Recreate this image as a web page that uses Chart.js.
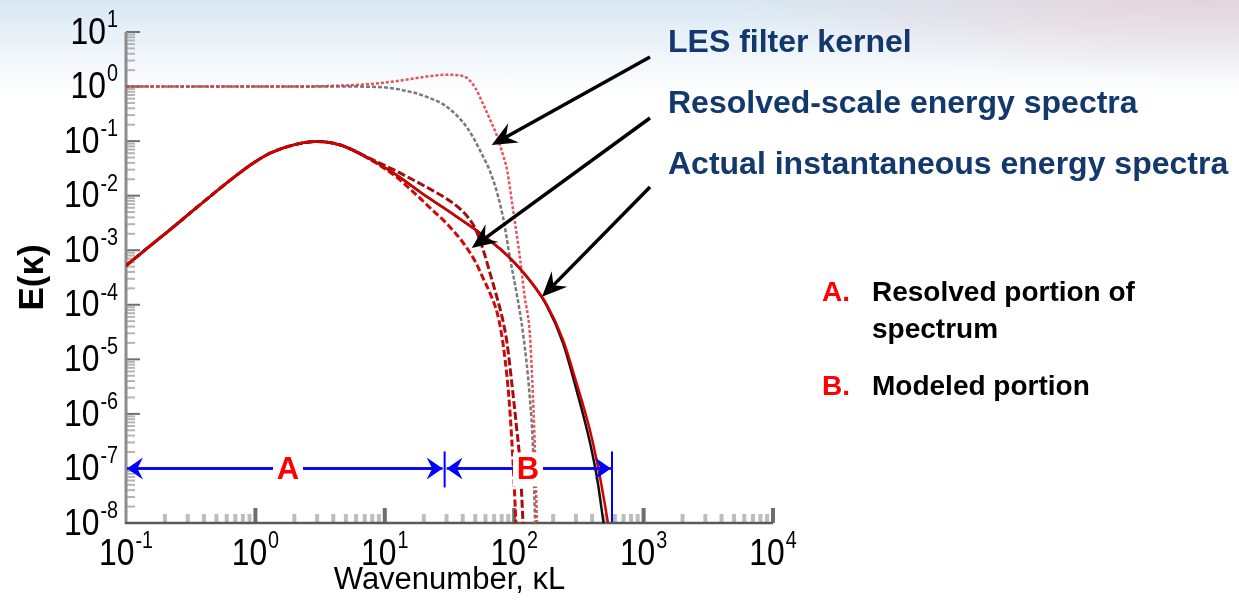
<!DOCTYPE html>
<html>
<head>
<meta charset="utf-8">
<title>LES energy spectra</title>
<script src="https://cdn.jsdelivr.net/npm/chart.js@4.4.1/dist/chart.umd.min.js"></script>
<style>
  html, body { margin: 0; padding: 0; }
  body {
    width: 1239px; height: 608px; overflow: hidden;
    background:
      radial-gradient(ellipse 460px 80px at 1200px 0px, rgba(238, 200, 202, 0.6), rgba(255, 255, 255, 0) 100%),
      linear-gradient(to bottom, #d7e7f2 0px, #e8f1f8 35px, #ffffff 95px);
  }
  #wrap { position: absolute; left: 0; top: 0; width: 1239px; height: 608px; }
</style>
</head>
<body>
<div id="wrap"><canvas id="spectrumChart" width="1239" height="608"></canvas></div>
<script>
// axis decades
const xDecades = [0.1, 1, 10, 100, 1000, 10000];
const yDecades = [1e-8, 1e-7, 1e-6, 1e-5, 1e-4, 1e-3, 1e-2, 1e-1, 1, 10];

// actual instantaneous energy spectrum (red and black runs)
const kActualRed = [0.1, 0.15, 0.22, 0.35, 0.54, 0.8, 1.0, 1.3, 2, 3, 4.5, 7.7, 12, 20, 30, 54, 78, 100, 132, 179, 238, 300, 385, 460, 531];
const eActualRed = [5.2e-4, 1.15e-3, 2.4e-3, 6e-3, 1.4e-2, 2.9e-2, 4.2e-2, 6e-2, 8.6e-2, 9.8e-2, 8.5e-2, 4.7e-2, 2.5e-2, 1.05e-2, 5.5e-3, 2.1e-3, 1.05e-3, 6e-4, 2.8e-4, 1e-4, 2.3e-5, 4e-6, 5e-7, 7e-8, 1e-8];
const kActualBlack = [0.1, 0.15, 0.22, 0.35, 0.54, 0.8, 1.0, 1.3, 2, 3, 4.5, 7.7, 12, 20, 30, 54, 78, 100, 132, 179, 238, 300, 385, 440, 490];
const eActualBlack = [5.2e-4, 1.15e-3, 2.4e-3, 6e-3, 1.4e-2, 2.9e-2, 4.2e-2, 6e-2, 8.6e-2, 9.8e-2, 8.5e-2, 4.7e-2, 2.5e-2, 1.05e-2, 5.5e-3, 2.1e-3, 1.05e-3, 6e-4, 2.8e-4, 9.5e-5, 2e-5, 3e-6, 3e-7, 6e-8, 1e-8];

// resolved-scale spectra (one per filter kernel)
const kResolvedA = [0.1, 0.15, 0.22, 0.35, 0.54, 0.8, 1.0, 1.3, 2, 3, 4.5, 7.7, 12, 18, 22, 30, 40, 50, 57, 66, 74, 80, 85, 91, 96, 100, 103];
const eResolvedA = [5.2e-4, 1.15e-3, 2.4e-3, 6e-3, 1.4e-2, 2.9e-2, 4.2e-2, 6e-2, 8.6e-2, 9.8e-2, 8.5e-2, 4.6e-2, 2.3e-2, 9.8e-3, 6.2e-3, 3.1e-3, 1.4e-3, 6.2e-4, 3.2e-4, 1.5e-4, 7e-5, 2.8e-5, 1e-5, 2e-6, 3e-7, 5e-8, 1e-8];
const kResolvedB = [0.1, 0.15, 0.22, 0.35, 0.54, 0.8, 1.0, 1.3, 2, 3, 4.5, 7.7, 12, 18, 22, 30, 38, 44, 50, 57, 65, 74, 82, 88, 96, 104, 111, 117];
const eResolvedB = [5.2e-4, 1.15e-3, 2.4e-3, 6e-3, 1.4e-2, 2.9e-2, 4.2e-2, 6e-2, 8.6e-2, 9.8e-2, 8.6e-2, 4.8e-2, 2.9e-2, 1.75e-2, 1.35e-2, 8.8e-3, 5.8e-3, 4e-3, 2.5e-3, 1.1e-3, 3.8e-4, 1.3e-4, 5e-5, 2e-5, 3.5e-6, 6e-7, 1.2e-7, 1e-8];

// LES filter kernels
const kKernelRed = [0.1, 2, 5, 9, 15, 22, 30, 38, 44, 50, 57, 65, 74, 82, 88, 98, 111, 120, 132, 138, 144, 150];
const gKernelRed = [1, 1, 1.05, 1.15, 1.35, 1.55, 1.65, 1.6, 1.38, 0.95, 0.5, 0.25, 0.12, 0.055, 0.03, 5.5e-3, 7e-4, 1.5e-4, 3e-5, 4e-6, 3e-7, 1e-8];
const kKernelGray = [0.1, 1, 5, 9, 16.5, 22, 30, 43, 54, 69, 82, 93, 105, 117, 132, 140, 145];
const gKernelGray = [1, 1, 1, 0.98, 0.78, 0.62, 0.43, 0.18, 0.07, 0.019, 0.004, 7e-4, 1.5e-4, 3e-5, 2e-6, 2e-7, 1e-8];

// callouts: text and the point each arrow lands on
const calloutText = ['LES filter kernel', 'Resolved-scale energy spectra', 'Actual instantaneous energy spectra'];
const calloutTipK = [67, 47, 164];
const calloutTipE = [0.085, 1.1e-3, 1.4e-4];

// resolved / modeled ranges drawn at E = 1e-7
const rangeE = 1e-7;
const rangeA = [0.1, 29];
const rangeB = [29, 570];

const FONT = "'Liberation Sans', Arial, Helvetica, sans-serif";
const SQUEEZE = 0.86;

function pts(ks, vs) {
  return ks.map((k, i) => ({ x: k, y: vs[i] }));
}

function line(label, ks, vs, color, width, dash) {
  return {
    label: label,
    data: pts(ks, vs),
    showLine: true,
    borderColor: color,
    borderWidth: width,
    borderDash: dash,
    pointRadius: 0,
    cubicInterpolationMode: 'monotone',
    fill: false
  };
}

// "10" with a raised exponent, slightly condensed; anchor is the label centre (x axis)
// or the label's right edge (y axis), with digitsTop the top of the big digits
function powerLabel(ctx, v, ax, digitsTop, align) {
  const e = String(Math.round(Math.log10(v)));
  ctx.save();
  ctx.textBaseline = 'top';
  ctx.textAlign = 'left';
  ctx.font = '37px ' + FONT;
  const wBase = ctx.measureText('10').width * SQUEEZE;
  ctx.font = '23px ' + FONT;
  const wExp = ctx.measureText(e).width * SQUEEZE;
  const total = wBase + wExp + 1;
  const left = align === 'center' ? ax - total / 2 : ax - total;
  ctx.fillStyle = '#000';
  ctx.translate(left, 0);
  ctx.scale(SQUEEZE, 1);
  ctx.font = '37px ' + FONT;
  ctx.fillText('10', 0, digitsTop - 4);
  ctx.font = '23px ' + FONT;
  ctx.fillText(e, (wBase + 1) / SQUEEZE, digitsTop - 10);
  ctx.restore();
}

// stealth style arrow head with its tip at (x2, y2)
function arrowHead(ctx, x1, y1, x2, y2, len, half, color) {
  const ang = Math.atan2(y2 - y1, x2 - x1);
  ctx.save();
  ctx.translate(x2, y2);
  ctx.rotate(ang);
  ctx.beginPath();
  ctx.moveTo(0, 0);
  ctx.lineTo(-len, -half);
  ctx.lineTo(-len * 0.65, 0);
  ctx.lineTo(-len, half);
  ctx.closePath();
  ctx.fillStyle = color;
  ctx.fill();
  ctx.restore();
}

function arrow(ctx, x1, y1, x2, y2, len, half, color, width) {
  const ang = Math.atan2(y2 - y1, x2 - x1);
  ctx.save();
  ctx.strokeStyle = color;
  ctx.lineWidth = width;
  ctx.beginPath();
  ctx.moveTo(x1, y1);
  ctx.lineTo(x2 - Math.cos(ang) * len * 0.6, y2 - Math.sin(ang) * len * 0.6);
  ctx.stroke();
  ctx.restore();
  arrowHead(ctx, x1, y1, x2, y2, len, half, color);
}

// inward tick marks, axis lines and decade labels
const axisMarks = {
  id: 'axisMarks',
  beforeDatasetsDraw(chart) {
    const { ctx, chartArea: a, scales: { x, y } } = chart;
    ctx.save();
    ctx.lineCap = 'butt';
    // y minor
    ctx.strokeStyle = '#b4b4b4';
    ctx.lineWidth = 2;
    for (let d = -8; d < 1; d++) {
      for (let m = 2; m <= 9; m++) {
        const py = y.getPixelForValue(m * Math.pow(10, d));
        ctx.beginPath(); ctx.moveTo(a.left, py); ctx.lineTo(a.left + 9, py); ctx.stroke();
      }
    }
    // y major
    ctx.strokeStyle = '#707070';
    yDecades.forEach(v => {
      const py = y.getPixelForValue(v);
      ctx.beginPath(); ctx.moveTo(a.left, py); ctx.lineTo(a.left + 14, py); ctx.stroke();
    });
    // x minor
    ctx.strokeStyle = '#bdbdbd';
    ctx.lineWidth = 4;
    for (let d = -1; d < 4; d++) {
      for (let m = 2; m <= 9; m++) {
        const px = x.getPixelForValue(m * Math.pow(10, d));
        ctx.beginPath(); ctx.moveTo(px, a.bottom); ctx.lineTo(px, a.bottom - 9); ctx.stroke();
      }
    }
    // x major
    ctx.strokeStyle = '#6e6e6e';
    xDecades.slice(1).forEach(v => {
      const px = x.getPixelForValue(v);
      ctx.beginPath(); ctx.moveTo(px, a.bottom); ctx.lineTo(px, a.bottom - 15); ctx.stroke();
    });
    // axis lines
    ctx.strokeStyle = '#8c8c8c';
    ctx.lineWidth = 3;
    ctx.beginPath(); ctx.moveTo(a.left, a.top); ctx.lineTo(a.left, a.bottom + 1); ctx.stroke();
    ctx.strokeStyle = '#5a5a5a';
    ctx.lineWidth = 2.5;
    ctx.beginPath(); ctx.moveTo(a.left - 1, a.bottom); ctx.lineTo(a.right, a.bottom); ctx.stroke();

    // decade labels
    xDecades.forEach(v => powerLabel(ctx, v, x.getPixelForValue(v), a.bottom + 17, 'center'));
    yDecades.forEach(v => powerLabel(ctx, v, a.left - 8, y.getPixelForValue(v) - 13, 'right'));
    ctx.restore();
  }
};

// A / B ranges, callouts and the side notes
const annotations = {
  id: 'annotations',
  afterDraw(chart) {
    const { ctx, chartArea: a, scales: { x, y } } = chart;
    ctx.save();

    // range arrows
    const blue = '#0000ff';
    const yr = y.getPixelForValue(rangeE);
    const xa0 = x.getPixelForValue(rangeA[0]);
    const xa1 = x.getPixelForValue(rangeA[1]);
    const xb1 = x.getPixelForValue(rangeB[1]);
    arrow(ctx, xa1 - 2, yr, xa0 + 1, yr, 16, 11, blue, 2.5);
    arrow(ctx, xa0 + 1, yr, xa1 - 2, yr, 16, 11, blue, 2.5);
    arrow(ctx, xb1 - 1, yr, xa1 + 2, yr, 16, 11, blue, 2.5);
    arrow(ctx, xa1 + 2, yr, xb1 - 1, yr, 16, 11, blue, 2.5);
    ctx.strokeStyle = blue;
    ctx.lineWidth = 2;
    ctx.beginPath(); ctx.moveTo(xa1, yr - 17); ctx.lineTo(xa1, yr + 19); ctx.stroke();
    ctx.beginPath(); ctx.moveTo(xb1, yr - 17); ctx.lineTo(xb1, a.bottom - 1); ctx.stroke();

    ctx.font = 'bold 31px ' + FONT;
    ctx.textAlign = 'center';
    ctx.textBaseline = 'middle';
    [['A', 288], ['B', 528]].forEach(([t, cx]) => {
      ctx.fillStyle = '#ffffff';
      ctx.fillRect(cx - 15, yr - 16, 30, 34);
      ctx.fillStyle = '#ff0000';
      ctx.fillText(t, cx, yr + 2);
    });

    // callouts
    const textX = 668;
    const textY = [43, 104, 165];
    const tailY = [57, 118, 187];
    ctx.font = 'bold 32px ' + FONT;
    ctx.textAlign = 'left';
    calloutText.forEach((t, i) => {
      ctx.fillStyle = '#12386d';
      ctx.fillText(t, textX, textY[i]);
      const tx = x.getPixelForValue(calloutTipK[i]);
      const ty = y.getPixelForValue(calloutTipE[i]);
      arrow(ctx, 650, tailY[i], tx, ty, 25, 11, '#000000', 3.5);
    });

    // side notes
    ctx.font = 'bold 28px ' + FONT;
    ctx.fillStyle = '#ff0000';
    ctx.fillText('A.', 822, 293);
    ctx.fillText('B.', 822, 387);
    ctx.fillStyle = '#000000';
    ctx.fillText('Resolved portion of', 872, 293);
    ctx.fillText('spectrum', 872, 330);
    ctx.fillText('Modeled portion', 872, 387);
    ctx.restore();
  }
};

new Chart(document.getElementById('spectrumChart'), {
  type: 'scatter',
  data: {
    datasets: [
      line('Actual spectrum', kActualRed, eActualRed, '#d40000', 2.5, []),
      line('Actual spectrum (black)', kActualBlack, eActualBlack, '#111111', 2.5, []),
      line('Resolved spectrum A', kResolvedA, eResolvedA, '#cf0a0a', 3, [7, 3]),
      line('Resolved spectrum B', kResolvedB, eResolvedB, '#a80d0d', 3, [8, 3]),
      line('Filter kernel (red)', kKernelRed, gKernelRed, 'rgba(228, 50, 60, 0.85)', 2.5, [3, 2]),
      line('Filter kernel (gray)', kKernelGray, gKernelGray, '#7a7a7a', 2.5, [4, 2])
    ]
  },
  options: {
    responsive: false,
    animation: false,
    layout: { padding: { left: 0, top: 32, right: 466, bottom: 0 } },
    plugins: { legend: { display: false }, tooltip: { enabled: false } },
    scales: {
      x: {
        type: 'logarithmic',
        min: 0.1,
        max: 10000,
        afterBuildTicks: s => { s.ticks = xDecades.map(v => ({ value: v })); },
        afterFit: s => { s.height = 85; },
        grid: { display: false, drawTicks: false },
        border: { display: false },
        ticks: { display: false },
        title: {
          display: true,
          text: 'Wavenumber, \u03BAL',
          color: '#000',
          font: { family: FONT, size: 31 },
          padding: { top: 0, bottom: 9 }
        }
      },
      y: {
        type: 'logarithmic',
        min: 1e-8,
        max: 10,
        afterBuildTicks: s => { s.ticks = yDecades.map(v => ({ value: v })); },
        afterFit: s => { s.width = 126; },
        grid: { display: false, drawTicks: false },
        border: { display: false },
        ticks: { display: false },
        title: {
          display: true,
          text: 'E(\u03BA)',
          color: '#000',
          font: { family: FONT, size: 35, weight: 'bold' },
          padding: { top: 12, bottom: 0 }
        }
      }
    }
  },
  plugins: [axisMarks, annotations]
});
</script>
</body>
</html>
